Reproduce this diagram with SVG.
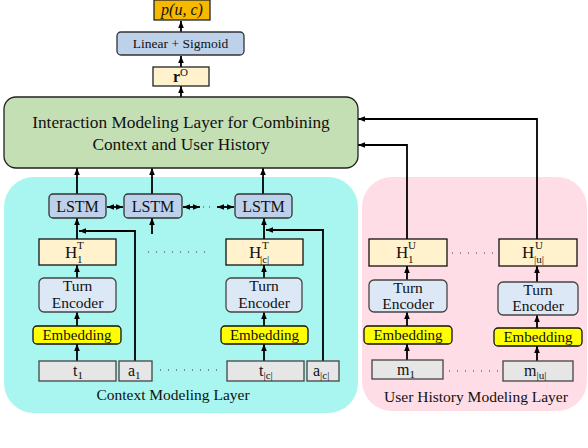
<svg xmlns="http://www.w3.org/2000/svg" width="588" height="448" viewBox="0 0 588 448" font-family="'Liberation Serif', 'Times New Roman', serif">
<defs>
<marker id="ah" markerUnits="userSpaceOnUse" markerWidth="8" markerHeight="8" viewBox="0 0 8 8" refX="7" refY="4" orient="auto-start-reverse">
<path d="M0,1.2 L7,4 L0,6.8 Z" fill="#000"/>
</marker>
</defs>
<style>
text{font-family:"Liberation Serif","Times New Roman",serif;fill:#111;}
.c{text-anchor:middle;}
.lstm{fill:#bdd1eb;stroke:#333;stroke-width:1.3;}
.h{fill:#fff2cc;stroke:#111;stroke-width:1.3;}
.te{fill:#dde8f6;stroke:#444;stroke-width:1.3;}
.emb{fill:#ffff00;stroke:#111;stroke-width:1.3;}
.inp{fill:#e6e6e6;stroke:#444;stroke-width:1.3;}
.arr{fill:none;stroke:#000;stroke-width:1.8;marker-end:url(#ah);}
.darr{fill:none;stroke:#000;stroke-width:1.8;marker-end:url(#ah);marker-start:url(#ah);}
.dots{fill:none;stroke:#333;stroke-width:1;stroke-dasharray:1 7;}
.t16{font-size:16px;}
.t15{font-size:15px;}
.te-t{font-size:15.5px;}
.hh{font-size:17px;}
.sm{font-size:11px;}
</style>

<g id="context-region">
<rect x="4" y="177" width="354" height="236" rx="30" fill="#a8f6ef"/>
<text class="c" x="173" y="400" font-size="15.5">Context Modeling Layer</text>
</g>
<g id="user-region">
<rect x="362" y="177" width="225" height="234" rx="30" fill="#ffdde6"/>
<text class="c" x="476" y="402" font-size="15.5">User History Modeling Layer</text>
</g>

<g id="connectors">
<path class="arr" d="M181,32 V21"/>
<path class="arr" d="M181,67 V56"/>
<path class="arr" d="M181,97 V86"/>
<path class="arr" d="M77,194 V168"/>
<path class="arr" d="M152,194 V168"/>
<path class="arr" d="M263,194 V168"/>
<path class="darr" d="M107,207 H123"/>
<path class="darr" d="M183,207 H200"/>
<path class="darr" d="M217,207 H234"/>
<path class="dots" d="M203,207 H215" style="stroke-dasharray:1 5"/>
<path class="arr" d="M152,234 V218"/>
<path class="arr" d="M77,239 V218"/>
<path class="arr" d="M135,361 V231 H79"/>
<path class="arr" d="M264,239 V218"/>
<path class="arr" d="M323,361 V230 H266"/>
<path class="arr" d="M77,278 V265"/>
<path class="arr" d="M77,326 V312"/>
<path class="arr" d="M77,361 V344"/>
<path class="arr" d="M264,278 V265"/>
<path class="arr" d="M264,326 V312"/>
<path class="arr" d="M264,361 V344"/>
<path class="arr" d="M407,239 V145 H358"/>
<path class="arr" d="M537,239 V119 H358"/>
<path class="arr" d="M407,280 V266"/>
<path class="arr" d="M407,326 V312"/>
<path class="arr" d="M407,360 V344"/>
<path class="arr" d="M537,282 V266"/>
<path class="arr" d="M537,328 V315"/>
<path class="arr" d="M537,361 V346"/>
<path class="dots" d="M148,252 H210"/>
<path class="dots" d="M160,370 H220"/>
<path class="dots" d="M452,253 H496"/>
<path class="dots" d="M449,371 H499"/>
</g>

<g id="p-uc">
<rect x="154" y="0" width="56" height="20" fill="#f6b900" stroke="#222" stroke-width="1.3"/>
<text class="c" x="182" y="15" font-size="16" font-style="italic">p(u, c)</text>
</g>
<g id="linear-sigmoid">
<rect x="117" y="32" width="127" height="23" rx="4" fill="#bdd1eb" stroke="#333" stroke-width="1.3"/>
<text class="c" x="180.5" y="48" font-size="13.5">Linear + Sigmoid</text>
</g>
<g id="r-o">
<rect x="153" y="67" width="56" height="19" fill="#fff2cc" stroke="#222" stroke-width="1.3"/>
<text x="173" y="82" font-size="16" font-weight="bold">r<tspan font-size="11" font-weight="normal" dy="-6">O</tspan></text>
</g>
<g id="interaction">
<rect x="4" y="97" width="354" height="71" rx="12" fill="#c5dfb4" stroke="#222" stroke-width="1.3"/>
<text class="c" x="181" y="128" font-size="17.3">Interaction Modeling Layer for Combining</text>
<text class="c" x="181" y="150" font-size="17.3">Context and User History</text>
</g>

<g id="lstm1"><rect class="lstm" x="49" y="194" width="57" height="24" rx="4"/><text class="c t16" x="77.5" y="212">LSTM</text></g>
<g id="lstm2"><rect class="lstm" x="124" y="194" width="58" height="24" rx="4"/><text class="c t16" x="153" y="212">LSTM</text></g>
<g id="lstm3"><rect class="lstm" x="235" y="194" width="57" height="24" rx="4"/><text class="c t16" x="263.5" y="212">LSTM</text></g>

<g id="h1t"><rect class="h" x="39" y="239" width="77" height="26"/><text class="hh" x="65" y="258">H<tspan class="sm" x="77" y="249">T</tspan><tspan class="sm" x="77" y="263">1</tspan></text></g>
<g id="hct"><rect class="h" x="226" y="239" width="77" height="26"/><text class="hh" x="249" y="258">H<tspan class="sm" x="262" y="249">T</tspan><tspan class="sm" x="260" y="263">|c|</tspan></text></g>

<g id="te1"><rect class="te" x="39" y="278" width="77" height="34" rx="5"/><text class="c te-t" x="77.5" y="291">Turn</text><text class="c te-t" x="77.5" y="308">Encoder</text></g>
<g id="te2"><rect class="te" x="226" y="278" width="76" height="34" rx="5"/><text class="c te-t" x="264" y="291">Turn</text><text class="c te-t" x="264" y="308">Encoder</text></g>

<g id="emb1"><rect class="emb" x="33" y="326" width="88" height="18" rx="4"/><text class="c t15" x="77" y="340">Embedding</text></g>
<g id="emb2"><rect class="emb" x="221" y="326" width="87" height="18" rx="4"/><text class="c t15" x="264.5" y="340">Embedding</text></g>

<g id="t1"><rect class="inp" x="39" y="361" width="77" height="20"/><text class="t16" x="73" y="376">t<tspan class="sm" dy="3">1</tspan></text></g>
<g id="a1"><rect class="inp" x="119" y="361" width="33" height="20"/><text class="t16" x="128" y="376">a<tspan class="sm" dy="3">1</tspan></text></g>
<g id="tc"><rect class="inp" x="227" y="361" width="77" height="20"/><text class="t16" x="259" y="376">t<tspan class="sm" dy="3">|c|</tspan></text></g>
<g id="ac"><rect class="inp" x="307" y="361" width="32" height="20"/><text class="t16" x="313" y="376">a<tspan class="sm" dy="3">|c|</tspan></text></g>

<g id="h1u"><rect class="h" x="369" y="239" width="78" height="27"/><text class="hh" x="396" y="258">H<tspan class="sm" x="408" y="249">U</tspan><tspan class="sm" x="408" y="263">1</tspan></text></g>
<g id="huu"><rect class="h" x="499" y="239" width="78" height="27"/><text class="hh" x="522" y="258">H<tspan class="sm" x="535" y="249">U</tspan><tspan class="sm" x="534" y="263">|u|</tspan></text></g>

<g id="teu1"><rect class="te" x="369" y="280" width="78" height="32" rx="5"/><text class="c te-t" x="408" y="293">Turn</text><text class="c te-t" x="408" y="309">Encoder</text></g>
<g id="teu2"><rect class="te" x="498" y="282" width="80" height="33" rx="5"/><text class="c te-t" x="538" y="295">Turn</text><text class="c te-t" x="538" y="311">Encoder</text></g>

<g id="embu1"><rect class="emb" x="364" y="326" width="88" height="18" rx="4"/><text class="c t15" x="408" y="340">Embedding</text></g>
<g id="embu2"><rect class="emb" x="494" y="328" width="88" height="18" rx="4"/><text class="c t15" x="538" y="342">Embedding</text></g>

<g id="m1"><rect class="inp" x="372" y="360" width="71" height="19"/><text class="t16" x="397" y="375">m<tspan class="sm" dy="3">1</tspan></text></g>
<g id="mu"><rect class="inp" x="503" y="361" width="70" height="20"/><text class="t16" x="524" y="376">m<tspan class="sm" dy="3">|u|</tspan></text></g>
</svg>
